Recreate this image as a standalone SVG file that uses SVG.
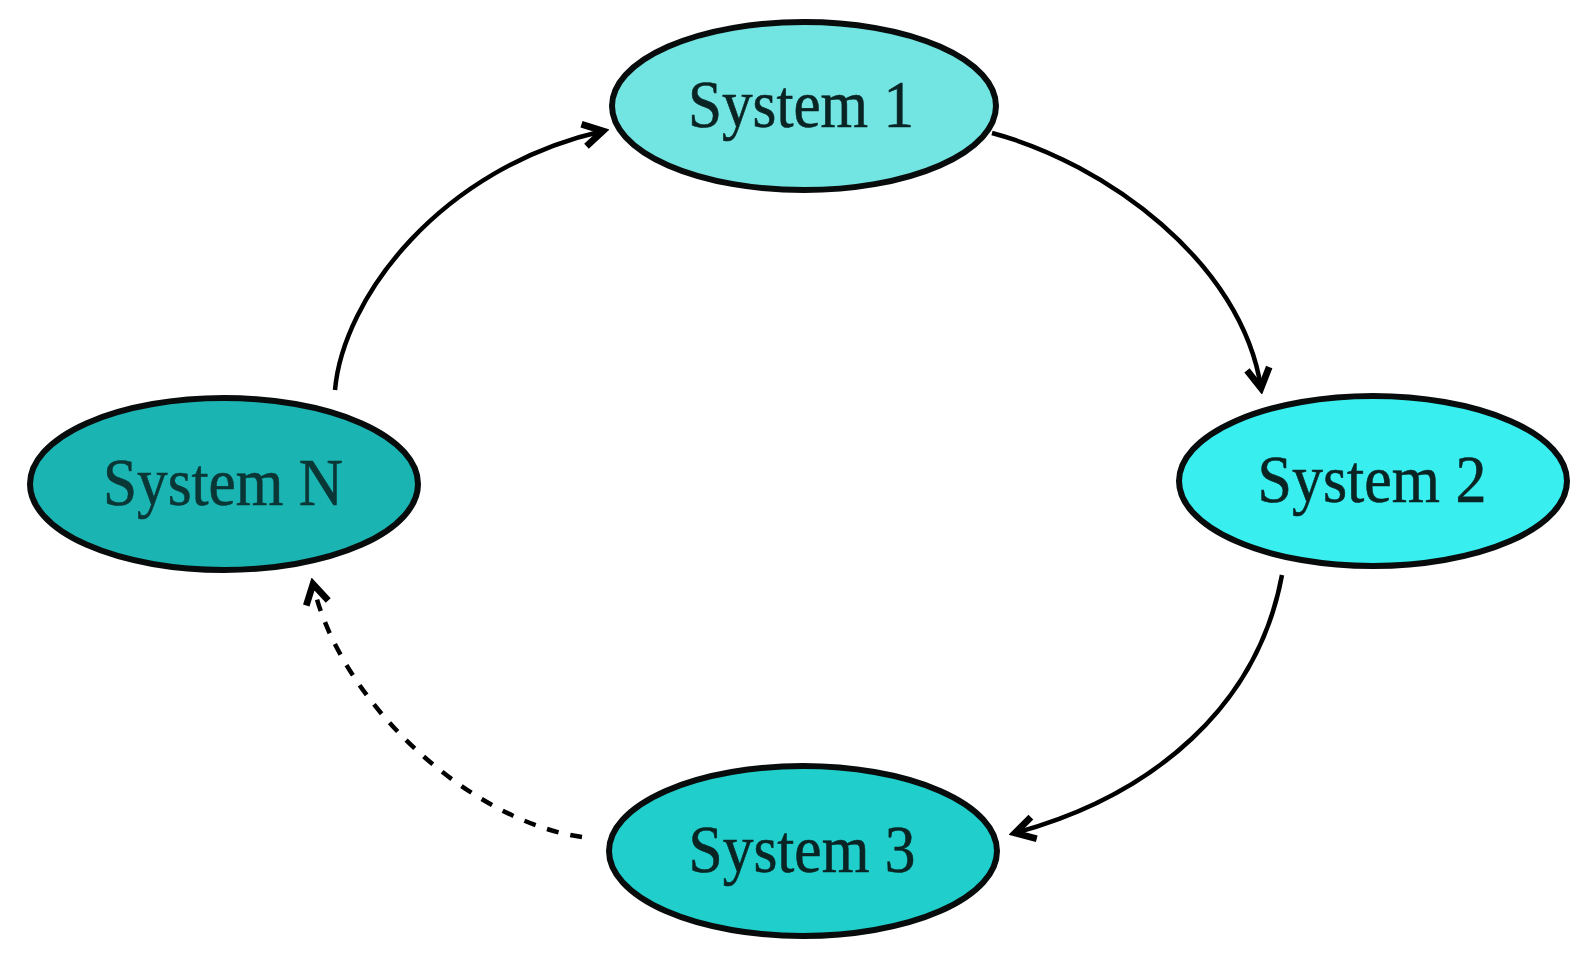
<svg xmlns="http://www.w3.org/2000/svg" width="1588" height="967" viewBox="0 0 1588 967">
<style>
.node ellipse{stroke:#080c0c;stroke-width:6}
.node text{font-family:"Liberation Serif","Times New Roman",serif;font-size:68px;fill:#0a2424;stroke:#0a2424;stroke-width:0.6;text-anchor:middle}
.conn path.c{fill:none;stroke:#000;stroke-width:4.5}
.dash{stroke-dasharray:12 12}
</style>
<defs>
<marker id="arr" markerUnits="userSpaceOnUse" markerWidth="30" markerHeight="30" viewBox="-16 -10 20 20" refX="0" refY="0" orient="auto">
<path d="M-13,-7.5 L0,0 L-13,7.5" fill="none" stroke="#000" stroke-width="4.5" stroke-linejoin="miter"/>
</marker>
</defs>
<rect width="1588" height="967" fill="#fff"/>
<g class="conn" id="connectors">
<path class="c" d="M335,390 C343,298 440,168 603,131" marker-end="url(#arr)"/>
<path class="c" d="M992,133 C1105,163 1242,262 1261,388" marker-end="url(#arr)"/>
<path class="c" d="M1282,575 C1258,705 1155,795 1015,833" marker-end="url(#arr)"/>
<path class="c dash" d="M582,837 C473,822 340,705 313,584" marker-end="url(#arr)"/>
</g>
<g class="node" id="system1">
<ellipse cx="804" cy="106" rx="192" ry="84" fill="#72e4e1"/>
<text x="801" y="127" textLength="226" lengthAdjust="spacingAndGlyphs">System 1</text>
</g>
<g class="node" id="system2">
<ellipse cx="1373" cy="481" rx="194" ry="85" fill="#38eeee"/>
<text x="1372" y="502" textLength="229" lengthAdjust="spacingAndGlyphs">System 2</text>
</g>
<g class="node" id="system3">
<ellipse cx="803" cy="851" rx="194" ry="85" fill="#20cfcb"/>
<text x="802" y="872" textLength="227" lengthAdjust="spacingAndGlyphs">System 3</text>
</g>
<g class="node" id="systemN">
<ellipse cx="224" cy="484" rx="194" ry="86" fill="#1ab4b2"/>
<text x="223" y="505" textLength="240" lengthAdjust="spacingAndGlyphs" style="fill:#0b3636;stroke:#0b3636">System N</text>
</g>
</svg>
